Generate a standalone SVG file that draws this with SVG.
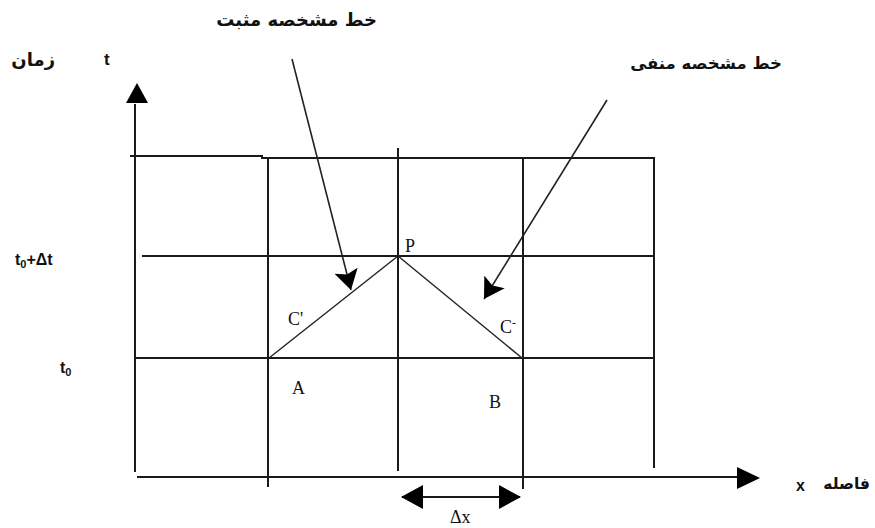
<svg xmlns="http://www.w3.org/2000/svg" width="875" height="528" viewBox="0 0 875 528">
<style>
.g{stroke:#1a1a1a;stroke-width:2;fill:none}
.c{stroke:#222;stroke-width:1.4;fill:none}
.p{stroke:#222;stroke-width:1.6;fill:none}
.fa{font-family:"DejaVu Sans",sans-serif;font-size:18px;font-weight:bold;fill:#111;direction:rtl}
.lt{font-family:"Liberation Serif",serif;font-size:18px;fill:#111}
.ls{font-family:"Liberation Sans",sans-serif;font-size:16px;font-weight:bold;fill:#111}
</style>
<defs>
<marker id="big" viewBox="0 0 22 24" markerWidth="22" markerHeight="24" refX="21" refY="12" orient="auto" markerUnits="userSpaceOnUse"><path d="M0,0 L22,12 L0,24 Z" fill="#000"/></marker>
<marker id="bigs" viewBox="0 0 22 24" markerWidth="22" markerHeight="24" refX="1" refY="12" orient="auto" markerUnits="userSpaceOnUse"><path d="M22,0 L0,12 L22,24 Z" fill="#000"/></marker>
<marker id="ptr" viewBox="0 0 22 24" markerWidth="22" markerHeight="24" refX="20" refY="12" orient="auto" markerUnits="userSpaceOnUse"><path d="M0,0 L20,12 L0,24 L4,12 Z" fill="#000"/></marker>
</defs>
<g id="grid">
<line class="g" x1="135" y1="472" x2="135" y2="104"/>
<path class="g" d="M130,156 H262 V158 H655"/>
<line class="g" x1="142" y1="256" x2="655" y2="256"/>
<line class="g" x1="135" y1="358" x2="655" y2="358"/>
<line class="g" x1="268" y1="157" x2="268" y2="487"/>
<line class="g" x1="398" y1="148" x2="398" y2="471"/>
<line class="g" x1="523" y1="158" x2="523" y2="489"/>
<line class="g" x1="654" y1="158" x2="654" y2="468"/>
<line class="g" x1="137" y1="477" x2="738" y2="477"/>
</g>
<g id="axis-arrows">
<path d="M137,83 L126,103 L148,103 Z" fill="#000"/>
<path d="M760,478 L737,467 L737,489 Z" fill="#000"/>
</g>
<g id="connectors">
<line class="c" x1="269" y1="358" x2="398" y2="256"/>
<line class="c" x1="398" y1="256" x2="522" y2="358"/>
<line class="p" x1="292" y1="59" x2="351" y2="290" marker-end="url(#ptr)"/>
<line class="p" x1="607" y1="100" x2="484" y2="299" marker-end="url(#ptr)"/>
<line class="g" x1="402" y1="497" x2="520" y2="497" marker-start="url(#bigs)" marker-end="url(#big)"/>
</g>
<g id="labels">
<text class="fa" x="377" y="26" text-anchor="start">خط مشخصه مثبت</text>
<text class="fa" x="782" y="69" text-anchor="start" style="font-size:16.5px">خط مشخصه منفی</text>
<text class="fa" x="55" y="66" text-anchor="start">زمان</text>
<text class="fa" x="870" y="489" text-anchor="start" style="font-size:15.5px">فاصله</text>
<text class="ls" x="104" y="65" style="font-size:17px">t</text>
<text class="ls" x="796" y="491">x</text>
<text class="ls" x="15" y="265">t<tspan style="font-size:11px" dy="3">0</tspan><tspan dy="-3">+Δt</tspan></text>
<text class="ls" x="60" y="373">t<tspan style="font-size:11px" dy="3">0</tspan></text>
<text class="lt" x="405" y="252">P</text>
<text class="lt" x="288" y="325">C'</text>
<text class="lt" x="500" y="333">C<tspan style="font-size:12px" dy="-6">-</tspan></text>
<text class="lt" x="292" y="394">A</text>
<text class="lt" x="489" y="408">B</text>
<text class="lt" x="450" y="523">Δx</text>
</g>
</svg>
